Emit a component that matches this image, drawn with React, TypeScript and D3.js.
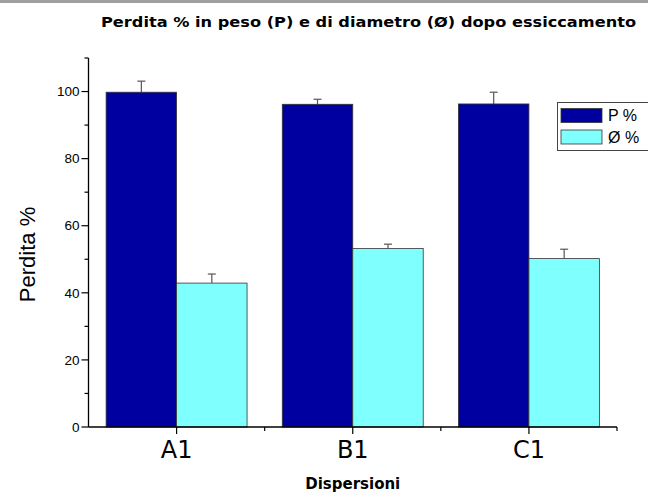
import React from 'react';
import * as d3 from 'd3';

const categories = ['A1', 'B1', 'C1'];
const seriesNames = ['P %', 'Ø %'];
const pValues = [99.8, 96.2, 96.3];
const pErrors = [3.3, 1.5, 3.5];
const dValues = [42.9, 53.2, 50.2];
const dErrors = [2.7, 1.3, 2.8];
const yMajorTicks = [0, 20, 40, 60, 80, 100];
const yMinorTicks = [10, 30, 50, 70, 90, 110];

const colors = ['#0000a0', '#80ffff'];

export default function App() {
  const W = 648, H = 496;
  const left = 88.5, right = 617, top = 58, bottom = 427;

  const x = d3.scaleBand().domain(categories).range([left, right]).paddingInner(0).paddingOuter(0);
  const bw = x.bandwidth();
  const xs = d3.scaleBand().domain(seriesNames).range([bw * 0.1, bw * 0.9]).padding(0);
  const y = d3.scaleLinear().domain([0, 110]).range([bottom, top]);

  const series = [
    {name: seriesNames[0], values: pValues, errors: pErrors, color: colors[0]},
    {name: seriesNames[1], values: dValues, errors: dErrors, color: colors[1]}
  ];

  const boundaries = categories.map(c => (x(c) as number) + bw);

  return (
    <svg width={W} height={H} style={{position: 'absolute', left: 0, top: 0, background: '#fff'}}>
      <rect x={0} y={0} width={W} height={3} fill="#a0a0a0" />
      <text x={101} y={27} fontFamily="'DejaVu Sans', sans-serif" fontWeight="bold" fontSize={14.5}
            textLength={535} lengthAdjust="spacingAndGlyphs">
        Perdita % in peso (P) e di diametro (Ø) dopo essiccamento
      </text>

      {/* bars */}
      {series.map((s) => (
        <g key={s.name}>
          {categories.map((c, i) => {
            const bx = (x(c) as number) + (xs(s.name) as number);
            const cx = bx + xs.bandwidth() / 2;
            const yTop = y(s.values[i]);
            const yErr = y(s.values[i] + s.errors[i]);
            return (
              <g key={c}>
                <line x1={cx} x2={cx} y1={yTop} y2={yErr} stroke="#555" strokeWidth={1.2} />
                <line x1={cx - 4} x2={cx + 4} y1={yErr} y2={yErr} stroke="#555" strokeWidth={1.2} />
                <rect x={bx} y={yTop} width={xs.bandwidth()} height={bottom - yTop}
                      fill={s.color} stroke="#333" strokeWidth={0.8} />
              </g>
            );
          })}
        </g>
      ))}

      {/* y axis */}
      <g fontFamily="'Liberation Sans', Arial, sans-serif" fontSize={13.5}>
        <line x1={left} x2={left} y1={top} y2={bottom} stroke="#000" strokeWidth={1.3} />
        {yMajorTicks.map(t => (
          <g key={t}>
            <line x1={left - 7} x2={left} y1={y(t)} y2={y(t)} stroke="#000" strokeWidth={1.2} />
            <text x={left - 9} y={y(t)} dy="0.35em" textAnchor="end">{t}</text>
          </g>
        ))}
        {yMinorTicks.map(t => (
          <line key={t} x1={left - 4} x2={left} y1={y(t)} y2={y(t)} stroke="#000" strokeWidth={1.2} />
        ))}
      </g>
      <text transform={`translate(35,${(top + bottom) / 2 + 12}) rotate(-90)`} textAnchor="middle"
            fontFamily="'Liberation Sans', Arial, sans-serif" fontSize={22}>Perdita %</text>

      {/* x axis */}
      <line x1={left} x2={right} y1={bottom} y2={bottom} stroke="#000" strokeWidth={1.3} />
      {boundaries.map((b, i) => (
        <line key={i} x1={b} x2={b} y1={bottom} y2={bottom + 4} stroke="#000" strokeWidth={1.2} />
      ))}
      {categories.map(c => {
        const cx = (x(c) as number) + bw / 2;
        return (
          <g key={c}>
            <line x1={cx} x2={cx} y1={bottom} y2={bottom + 7} stroke="#000" strokeWidth={1.2} />
            <text x={cx} y={458} textAnchor="middle" fontFamily="'DejaVu Sans', sans-serif" fontSize={24}>{c}</text>
          </g>
        );
      })}
      <text x={(left + right) / 2} y={489} textAnchor="middle" fontFamily="'DejaVu Sans', sans-serif"
            fontWeight="bold" fontSize={15}>Dispersioni</text>

      {/* legend */}
      <rect x={557.5} y={102.5} width={100} height={48} fill="#fff" stroke="#444" strokeWidth={1} />
      {series.map((s, i) => (
        <g key={s.name}>
          <rect x={561} y={108.5 + i * 21.5} width={41} height={14} fill={s.color} stroke="#333" strokeWidth={0.8} />
          <text x={608} y={115.5 + i * 21.5} dy="0.35em" fontFamily="'Liberation Sans', Arial, sans-serif" fontSize={16}>{s.name}</text>
        </g>
      ))}
    </svg>
  );
}
